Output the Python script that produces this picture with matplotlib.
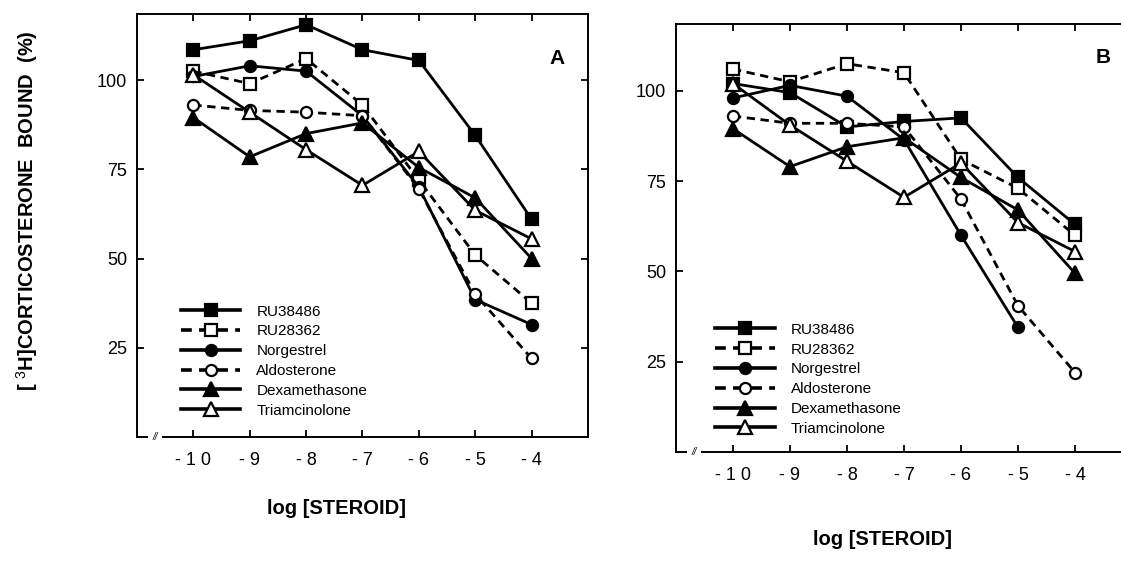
import numpy as np
import matplotlib
matplotlib.use("Agg")
import matplotlib.pyplot as plt

plt.rcParams['font.family'] = ['Liberation Sans', 'DejaVu Sans']
plt.rcParams['mathtext.fontset'] = 'custom'
plt.rcParams['mathtext.rm'] = 'Liberation Sans'
plt.rcParams['mathtext.bf'] = 'Liberation Sans:bold'

# ---------------- data ----------------
log_conc = [-10, -9, -8, -7, -6, -5, -4]
x_tick_labels = ["- 1 0", "- 9", "- 8", "- 7", "- 6", "- 5", "- 4"]
y_ticks = [25, 50, 75, 100]
y_tick_labels = ["25", "50", "75", "100"]

series_names = ["RU38486", "RU28362", "Norgestrel", "Aldosterone",
                "Dexamethasone", "Triamcinolone"]

# Panel A
a_ru38486 = [108.5, 111, 115.5, 108.5, 105.5, 84.5, 61]
a_ru28362 = [102.5, 99, 106, 93, 72, 51, 37.5]
a_norgestrel = [101, 104, 102.5, 90, 70, 38.5, 31.5]
a_aldosterone = [93, 91.5, 91, 90, 69.5, 40, 22]
a_dexamethasone = [89.5, 78.5, 85, 88, 75.5, 67, 50]
a_triamcinolone = [101.5, 91, 80.5, 70.5, 80, 63.5, 55.5]

# Panel B
b_ru38486 = [102, 99.5, 90, 91.5, 92.5, 76, 63]
b_ru28362 = [106, 102.5, 107.5, 105, 81, 73, 60]
b_norgestrel = [98, 101.5, 98.5, 86.5, 60, 34.5, np.nan]
b_aldosterone = [93, 91, 91, 90, 70, 40.5, 22]
b_dexamethasone = [89.5, 79, 84.5, 87, 76, 67, 49.5]
b_triamcinolone = [102, 90.5, 80.5, 70.5, 80, 63.5, 55.5]

panel_a = [a_ru38486, a_ru28362, a_norgestrel, a_aldosterone, a_dexamethasone, a_triamcinolone]
panel_b = [b_ru38486, b_ru28362, b_norgestrel, b_aldosterone, b_dexamethasone, b_triamcinolone]

# ---------------- styles ----------------
styles = [
    dict(ls='-', marker='s', mfc='black', ms=8.5),
    dict(ls=(0, (3, 2)), marker='s', mfc='white', ms=8.5),
    dict(ls='-', marker='o', mfc='black', ms=8),
    dict(ls=(0, (3, 2)), marker='o', mfc='white', ms=8),
    dict(ls='-', marker='^', mfc='black', ms=10),
    dict(ls='-', marker='^', mfc='white', ms=10),
]

fig = plt.figure(figsize=(11.21, 5.61), dpi=100)
ax_a = fig.add_axes([0.1222, 0.221, 0.4023, 0.754])
ax_b = fig.add_axes([0.603, 0.1943, 0.4068, 0.763])


def setup(ax, data, letter, letter_xy, label_xy, leg_anchor):
    for name, vals, st in zip(series_names, data, styles):
        ax.plot(log_conc, vals, color='black', lw=2.0, mec='black', mew=1.6,
                label=name, clip_on=False, **st)
    ax.set_xlim(-11, -3)
    ax.set_ylim(0, 118.5)
    ax.set_xticks(log_conc)
    ax.set_xticklabels(x_tick_labels)
    ax.set_yticks(y_ticks)
    ax.set_yticklabels(y_tick_labels)
    ax.tick_params(direction='in', length=5, width=1.3, top=True, right=True,
                   labelsize=13)
    ax.tick_params(axis='x', pad=11)
    ax.tick_params(axis='y', pad=7)
    for s in ['left', 'top', 'right']:
        ax.spines[s].set_linewidth(1.4)
    ax.spines['bottom'].set_visible(False)
    ax.plot([0, 0.022], [0, 0], transform=ax.transAxes, color='black', lw=1.4,
            clip_on=False)
    ax.plot([0.058, 1], [0, 0], transform=ax.transAxes, color='black', lw=1.4,
            clip_on=False)
    ax.text(0.04, 0.0, '//', transform=ax.transAxes, ha='center', va='center',
            fontsize=7, style='italic')
    ax.text(letter_xy[0], letter_xy[1], letter, ha='center', va='center',
            fontsize=15, fontweight='bold')
    ax.text(label_xy[0], label_xy[1], 'log [STEROID]', transform=ax.transAxes,
            ha='center', va='center', fontsize=14.5, fontweight='bold')
    leg = ax.legend(loc='lower left', bbox_to_anchor=leg_anchor, frameon=False,
                    borderpad=0, borderaxespad=0, fontsize=11,
                    handlelength=3.9, handletextpad=1.05, labelspacing=0.38,
                    numpoints=1)
    for h in leg.legend_handles:
        h.set_linewidth(2.6)


setup(ax_a, panel_a, 'A', (-3.55, 106), (0.443, -0.17), (0.097, 0.046))
setup(ax_b, panel_b, 'B', (-3.5, 109.3), (0.454, -0.205), (0.086, 0.038))

fig.text(0.024, 0.624, r'[ $^{3}$H]CORTICOSTERONE  BOUND  (%)', rotation=90,
         ha='center', va='center', fontsize=14.5, fontweight='bold')

fig.savefig('out.png', dpi=100)
